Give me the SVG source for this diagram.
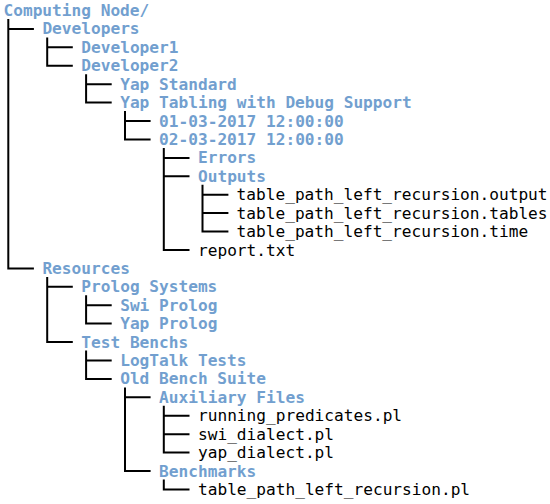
<svg xmlns="http://www.w3.org/2000/svg" width="550" height="504" viewBox="0 0 550 504">
<style>
text{font-family:"DejaVu Sans Mono","Liberation Mono",monospace;font-size:16.15px}
.d{fill:#729fcf;font-weight:bold}
.f{fill:#000000}
.c path{fill:none;stroke:#000;stroke-width:2;stroke-linecap:square}
</style>
<rect width="550" height="504" fill="#fff"/>
<g class="c" id="connectors">
<path d="M8.3 20V268.4H32.9M8.3 28.9H32.9"/>
<path d="M47.2 38.4V65.8H71.8M47.2 47.3H71.8"/>
<path d="M86.1 75.3V102.6H110.7M86.1 84.2H110.7"/>
<path d="M125 112.1V139.4H149.6M125 121H149.6"/>
<path d="M163.8 148.9V250H188.5M163.8 157.9H188.5M163.8 176.3H188.5"/>
<path d="M202.5 185.8V231.5H227.4M202.5 194.7H227.4M202.5 213.1H227.4"/>
<path d="M47.2 277.9V342.1H71.8M47.2 286.8H71.8"/>
<path d="M86.1 296.3V323.6H110.7M86.1 305.2H110.7"/>
<path d="M86.1 351.6V378.9H110.7M86.1 360.5H110.7"/>
<path d="M125 388.4V471H149.6M125 397.3H149.6"/>
<path d="M163.8 406.8V452.6H188.5M163.8 415.7H188.5M163.8 434.2H188.5"/>
<path d="M163.8 480.5V489.4H188.5"/>
</g>
<g id="n0"><text class="d" x="3.5" y="16">Computing Node/</text></g>
<g id="n1"><text class="d" x="42.4" y="34.4">Developers</text></g>
<g id="n2"><text class="d" x="81.3" y="52.8">Developer1</text></g>
<g id="n3"><text class="d" x="81.3" y="71.3">Developer2</text></g>
<g id="n4"><text class="d" x="120.2" y="89.7">Yap Standard</text></g>
<g id="n5"><text class="d" x="120.2" y="108.1">Yap Tabling with Debug Support</text></g>
<g id="n6"><text class="d" x="159.1" y="126.5">01-03-2017 12:00:00</text></g>
<g id="n7"><text class="d" x="159.1" y="144.9">02-03-2017 12:00:00</text></g>
<g id="n8"><text class="d" x="198" y="163.4">Errors</text></g>
<g id="n9"><text class="d" x="198" y="181.8">Outputs</text></g>
<g id="n10"><text class="f" x="236.6" y="200.2">table_path_left_recursion.output</text></g>
<g id="n11"><text class="f" x="236.6" y="218.6">table_path_left_recursion.tables</text></g>
<g id="n12"><text class="f" x="236.6" y="237">table_path_left_recursion.time</text></g>
<g id="n13"><text class="f" x="198" y="255.5">report.txt</text></g>
<g id="n14"><text class="d" x="42.4" y="273.9">Resources</text></g>
<g id="n15"><text class="d" x="81.3" y="292.3">Prolog Systems</text></g>
<g id="n16"><text class="d" x="120.2" y="310.7">Swi Prolog</text></g>
<g id="n17"><text class="d" x="120.2" y="329.1">Yap Prolog</text></g>
<g id="n18"><text class="d" x="81.3" y="347.6">Test Benchs</text></g>
<g id="n19"><text class="d" x="120.2" y="366">LogTalk Tests</text></g>
<g id="n20"><text class="d" x="120.2" y="384.4">Old Bench Suite</text></g>
<g id="n21"><text class="d" x="159.1" y="402.8">Auxiliary Files</text></g>
<g id="n22"><text class="f" x="198" y="421.2">running_predicates.pl</text></g>
<g id="n23"><text class="f" x="198" y="439.7">swi_dialect.pl</text></g>
<g id="n24"><text class="f" x="198" y="458.1">yap_dialect.pl</text></g>
<g id="n25"><text class="d" x="159.1" y="476.5">Benchmarks</text></g>
<g id="n26"><text class="f" x="198" y="494.9">table_path_left_recursion.pl</text></g>
</svg>
